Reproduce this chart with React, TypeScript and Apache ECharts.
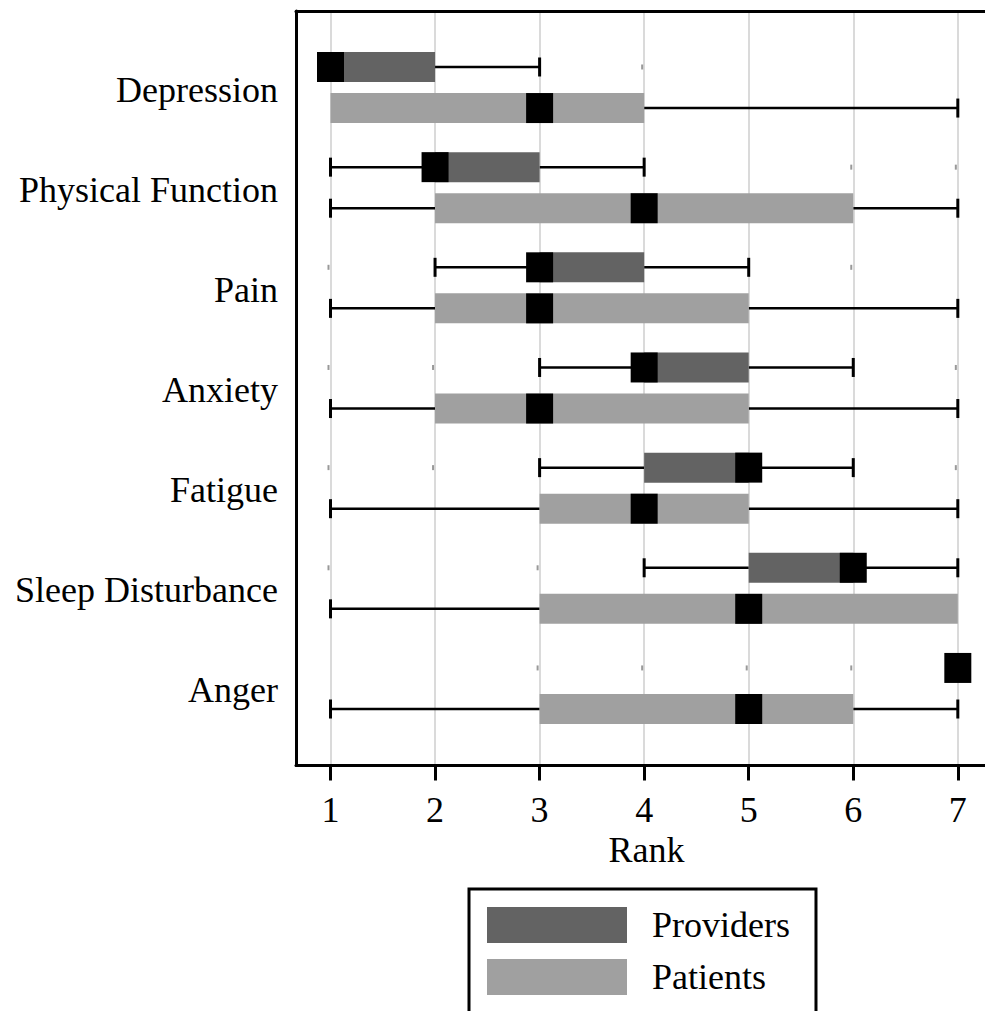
import React, { useEffect, useRef } from "react";
import * as echarts from "echarts";

const categories = [
  "Depression",
  "Physical Function",
  "Pain",
  "Anxiety",
  "Fatigue",
  "Sleep Disturbance",
  "Anger",
];

// Providers: whisker low, Q1, median, Q3, whisker high
const providerLow = [1, 1, 2, 3, 3, 4, 7];
const providerQ1 = [1, 2, 3, 4, 4, 5, 7];
const providerMedian = [1, 2, 3, 4, 5, 6, 7];
const providerQ3 = [2, 3, 4, 5, 5, 6, 7];
const providerHigh = [3, 4, 5, 6, 6, 7, 7];

// Patients: whisker low, Q1, median, Q3, whisker high
const patientLow = [1, 1, 1, 1, 1, 1, 1];
const patientQ1 = [1, 2, 2, 2, 3, 3, 3];
const patientMedian = [3, 4, 3, 3, 4, 5, 5];
const patientQ3 = [4, 6, 5, 5, 5, 7, 6];
const patientHigh = [7, 7, 7, 7, 7, 7, 7];

// faint leftover tick marks on the providers rows: [category index, rank]
const faintMarks = [
  [0, 4], [1, 6], [1, 7], [2, 1], [2, 6], [3, 1], [3, 2], [3, 7],
  [4, 1], [4, 2], [4, 7], [5, 1], [5, 3], [6, 3], [6, 4], [6, 5], [6, 6],
];

const xTicks = [1, 2, 3, 4, 5, 6, 7];
const seriesNames = ["Providers", "Patients"];

const X_MIN = 0.67;
const X_MAX = 7.26;
const Y_MIN = -0.764;
const Y_MAX = 6.769;
const ROW_OFFSET = 0.205;

const FONT = "'Liberation Serif', 'Times New Roman', serif";

function makeRender(color: string, rowSign: number) {
  return (params: any, api: any) => {
    const i = api.value(0);
    const low = api.value(1);
    const q1 = api.value(2);
    const med = api.value(3);
    const q3 = api.value(4);
    const high = api.value(5);
    const unit = api.size([0, 1])[1];
    const yc = api.coord([X_MIN, i])[1] + rowSign * ROW_OFFSET * unit;
    const px = (v: number) => api.coord([v, i])[0];
    const children: any[] = [];
    const lineStyle = { stroke: "#000", lineWidth: 2.5 };
    const capStyle = { stroke: "#000", lineWidth: 3 };
    const capH = 9.5;
    if (low < q1) {
      children.push({ type: "line", shape: { x1: px(low), y1: yc, x2: px(q1), y2: yc }, style: lineStyle });
      children.push({ type: "line", shape: { x1: px(low), y1: yc - capH, x2: px(low), y2: yc + capH }, style: capStyle });
    }
    if (high > q3) {
      children.push({ type: "line", shape: { x1: px(q3), y1: yc, x2: px(high), y2: yc }, style: lineStyle });
      children.push({ type: "line", shape: { x1: px(high), y1: yc - capH, x2: px(high), y2: yc + capH }, style: capStyle });
    }
    if (q3 > q1) {
      children.push({
        type: "rect",
        shape: { x: px(q1), y: yc - 15, width: px(q3) - px(q1), height: 30 },
        style: { fill: color },
      });
    }
    children.push({
      type: "rect",
      shape: { x: px(med) - 13.5, y: yc - 15, width: 27, height: 30 },
      style: { fill: "#000" },
    });
    return { type: "group", children };
  };
}

export default function App() {
  const ref = useRef<HTMLDivElement>(null);
  useEffect(() => {
    const chart = echarts.init(ref.current!, null, { renderer: "svg" });
    const providerData = categories.map((_, i) => [
      i, providerLow[i], providerQ1[i], providerMedian[i], providerQ3[i], providerHigh[i],
    ]);
    const patientData = categories.map((_, i) => [
      i, patientLow[i], patientQ1[i], patientMedian[i], patientQ3[i], patientHigh[i],
    ]);
    chart.setOption({
      animation: false,
      backgroundColor: "#fff",
      grid: { left: 296, right: 0, top: 11, bottom: 245.5 },
      legend: {
        data: seriesNames,
        orient: "vertical",
        left: 469,
        top: 889,
        height: 100,
        icon: "rect",
        itemWidth: 140,
        itemHeight: 36,
        itemGap: 16,
        padding: [18, 26, 18, 18],
        borderColor: "#000",
        borderWidth: 3,
        selectedMode: false,
        textStyle: { fontFamily: FONT, fontSize: 36, color: "#000", padding: [0, 0, 0, 20] },
      },
      xAxis: [
        {
          type: "value",
          min: X_MIN,
          max: X_MAX,
          position: "bottom",
          axisLine: { show: true, onZero: false, lineStyle: { color: "#000", width: 3 } },
          axisTick: { show: true, customValues: xTicks, length: 15, lineStyle: { color: "#000", width: 3 } },
          axisLabel: { customValues: xTicks, margin: 26, fontFamily: FONT, fontSize: 36, color: "#000" },
          splitLine: { show: true, lineStyle: { color: "#dadada", width: 2 } },
          name: "Rank",
          nameLocation: "middle",
          nameGap: 65,
          nameTextStyle: { fontFamily: FONT, fontSize: 36, color: "#000", padding: [0, 0, 0, 12] },
        },
        {
          type: "value",
          min: X_MIN,
          max: X_MAX,
          position: "top",
          axisLine: { show: true, onZero: false, lineStyle: { color: "#000", width: 3 } },
          axisTick: { show: false },
          axisLabel: { show: false },
          splitLine: { show: false },
        },
      ],
      yAxis: {
        type: "value",
        inverse: true,
        min: Y_MIN,
        max: Y_MAX,
        axisLine: { show: true, onZero: false, lineStyle: { color: "#000", width: 3 } },
        axisTick: { show: false },
        axisLabel: { show: false },
        splitLine: { show: false },
      },
      series: [
        {
          name: "labels",
          type: "custom",
          silent: true,
          clip: false,
          data: categories.map((_, i) => [i]),
          renderItem: (params: any, api: any) => {
            const i = api.value(0);
            const p = api.coord([X_MIN, i]);
            return {
              type: "text",
              x: p[0] - 18,
              y: p[1] + 2,
              style: {
                text: categories[i],
                fontFamily: FONT,
                fontSize: 36,
                fill: "#000",
                align: "right",
                verticalAlign: "middle",
              },
            };
          },
        },
        {
          name: "marks",
          type: "custom",
          silent: true,
          data: faintMarks,
          renderItem: (params: any, api: any) => {
            const unit = api.size([0, 1])[1];
            const p = api.coord([api.value(1), api.value(0)]);
            return {
              type: "rect",
              shape: { x: p[0] - 3, y: p[1] - ROW_OFFSET * unit - 2.5, width: 2, height: 5 },
              style: { fill: "#999" },
            };
          },
        },
        {
          name: seriesNames[0],
          type: "custom",
          silent: true,
          itemStyle: { color: "#636363" },
          data: providerData,
          renderItem: makeRender("#636363", -1),
        },
        {
          name: seriesNames[1],
          type: "custom",
          silent: true,
          itemStyle: { color: "#a0a0a0" },
          data: patientData,
          renderItem: makeRender("#a0a0a0", 1),
        },
      ],
    });
    return () => chart.dispose();
  }, []);
  return (
    <div
      ref={ref}
      style={{ position: "fixed", left: 0, top: 0, width: 985, height: 1011, background: "#fff" }}
    />
  );
}
